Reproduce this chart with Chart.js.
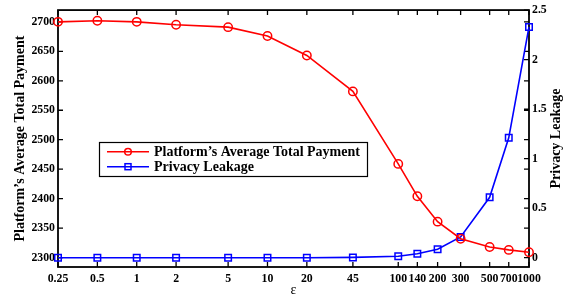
<!DOCTYPE html>
<html><head><meta charset="utf-8">
<script src="https://cdn.jsdelivr.net/npm/chart.js@4.4.0/dist/chart.umd.min.js"></script>
<style>html,body{margin:0;padding:0;background:#fff;}#wrap{width:569px;height:297px;}</style>
</head><body><div id="wrap"><canvas id="c" width="569" height="297"></canvas></div>
<script>
const epsilon = [0.25, 0.5, 1, 2, 5, 10, 20, 45, 100, 140, 200, 300, 500, 700, 1000];
const payment = [2700, 2702, 2700, 2695, 2691, 2676, 2643, 2582, 2459, 2404, 2361, 2332, 2318, 2313, 2309];
const leakage = [0, 0, 0, 0, 0, 0, 0, 0.003, 0.015, 0.04, 0.085, 0.21, 0.61, 1.21, 2.33];
const xTicks = [0.25, 0.5, 1, 2, 5, 10, 20, 45, 100, 140, 200, 300, 500, 700, 1000];
const leftTicks = [2300, 2350, 2400, 2450, 2500, 2550, 2600, 2650, 2700];
const rightTicks = [0, 0.5, 1, 1.5, 2, 2.5];
const seriesNames = ["Platform\u2019s Average Total Payment", "Privacy Leakage"];
const xTitle = "\u03b5";
const leftTitle = "Platform\u2019s Average Total Payment";
const rightTitle = "Privacy Leakage";

const FONT = "'Liberation Serif', 'Times New Roman', serif";
const tickFont = {family: FONT, size: 11.8, weight: 'bold'};

const frame = {
  id: 'frame',
  beforeDatasetsDraw(chart) {
    const {ctx, chartArea: a, scales} = chart;
    ctx.save();
    ctx.strokeStyle = '#000';
    ctx.lineWidth = 1.8;
    ctx.strokeRect(a.left, a.top, a.right - a.left, a.bottom - a.top);
    ctx.lineWidth = 1.3;
    const L = 5;
    ctx.beginPath();
    xTicks.forEach(v => {
      const p = scales.x.getPixelForValue(v);
      ctx.moveTo(p, a.bottom); ctx.lineTo(p, a.bottom - L);
      ctx.moveTo(p, a.top); ctx.lineTo(p, a.top + L);
    });
    leftTicks.forEach(v => {
      const p = scales.y.getPixelForValue(v);
      ctx.moveTo(a.left, p); ctx.lineTo(a.left + L, p);
      ctx.moveTo(a.right, p); ctx.lineTo(a.right - L, p);
    });
    rightTicks.forEach(v => {
      const p = scales.y2.getPixelForValue(v);
      ctx.moveTo(a.right, p); ctx.lineTo(a.right - L, p);
    });
    ctx.stroke();
    ctx.restore();
  },
  afterDraw(chart) {
    const {ctx, chartArea: a} = chart;
    ctx.save();
    ctx.fillStyle = '#000';
    ctx.textAlign = 'center';
    ctx.textBaseline = 'middle';
    const cy = (a.top + a.bottom) / 2;
    ctx.font = "bold 14px " + FONT;
    ctx.save(); ctx.translate(20, cy); ctx.rotate(-Math.PI / 2); ctx.fillText(leftTitle, 0, 0); ctx.restore();
    ctx.save(); ctx.translate(556, cy); ctx.rotate(-Math.PI / 2); ctx.fillText(rightTitle, 0, 0); ctx.restore();
    ctx.font = "14px " + FONT;
    ctx.fillText(xTitle, (a.left + a.right) / 2, 290);
    // legend
    const bx = 99.5, by = 142.5, bw = 268, bh = 34;
    ctx.fillStyle = '#fff';
    ctx.fillRect(bx, by, bw, bh);
    ctx.strokeStyle = '#000'; ctx.lineWidth = 1.2;
    ctx.strokeRect(bx, by, bw, bh);
    ctx.font = "bold 14px " + FONT;
    ctx.textAlign = 'left';
    chart.data.datasets.forEach((ds, i) => {
      const yy = 151.7 + i * 15;
      ctx.strokeStyle = ds.borderColor; ctx.lineWidth = 1.5;
      ctx.beginPath(); ctx.moveTo(107, yy); ctx.lineTo(149, yy); ctx.stroke();
      if (ds.pointStyle === 'circle') {
        ctx.beginPath(); ctx.arc(128, yy, 3.3, 0, Math.PI * 2); ctx.stroke();
      } else {
        ctx.strokeRect(125, yy - 3, 6, 6);
      }
      ctx.fillStyle = '#000';
      ctx.fillText(ds.label, 154, yy + 0.5);
    });
    ctx.restore();
  }
};

new Chart(document.getElementById('c'), {
  type: 'line',
  data: {
    datasets: [
      {label: seriesNames[0], data: epsilon.map((e, i) => ({x: e, y: payment[i]})), yAxisID: 'y',
       borderColor: '#ff0000', borderWidth: 1.6, pointStyle: 'circle', pointRadius: 4.2,
       pointBorderColor: '#ff0000', pointBorderWidth: 1.5, pointBackgroundColor: 'rgba(0,0,0,0)', clip: false, tension: 0},
      {label: seriesNames[1], data: epsilon.map((e, i) => ({x: e, y: leakage[i]})), yAxisID: 'y2',
       borderColor: '#0000ff', borderWidth: 1.6, pointStyle: 'rect', pointRadius: 4.6,
       pointBorderColor: '#0000ff', pointBorderWidth: 1.5, pointBackgroundColor: 'rgba(0,0,0,0)', clip: false, tension: 0}
    ]
  },
  options: {
    responsive: false, animation: false, devicePixelRatio: 1,
    layout: {padding: {top: 6, left: 0, right: 0, bottom: 0}},
    plugins: {legend: {display: false}, tooltip: {enabled: false}},
    scales: {
      x: {
        type: 'logarithmic', min: 0.25, max: 1000,
        grid: {display: false, drawTicks: false}, border: {display: false},
        afterBuildTicks: s => { s.ticks = xTicks.map(v => ({value: v})); },
        afterFit: s => { s.height = 30; },
        ticks: {autoSkip: false, maxRotation: 0, minRotation: 0, padding: 5, color: '#000', font: tickFont,
                callback: v => String(v)}
      },
      y: {
        type: 'linear', position: 'left', min: 2284, max: 2720,
        grid: {display: false, drawTicks: false}, border: {display: false},
        afterBuildTicks: s => { s.ticks = leftTicks.map(v => ({value: v})); },
        afterFit: s => { s.width = 58; },
        ticks: {padding: 3, color: '#000', font: tickFont, callback: v => String(v)}
      },
      y2: {
        type: 'linear', position: 'right', min: -0.094, max: 2.5,
        grid: {display: false, drawTicks: false}, border: {display: false},
        afterBuildTicks: s => { s.ticks = rightTicks.map(v => ({value: v})); },
        afterFit: s => { s.width = 40; },
        ticks: {padding: 3, color: '#000', font: tickFont, callback: v => String(v)}
      }
    }
  },
  plugins: [frame]
});
</script></body></html>
